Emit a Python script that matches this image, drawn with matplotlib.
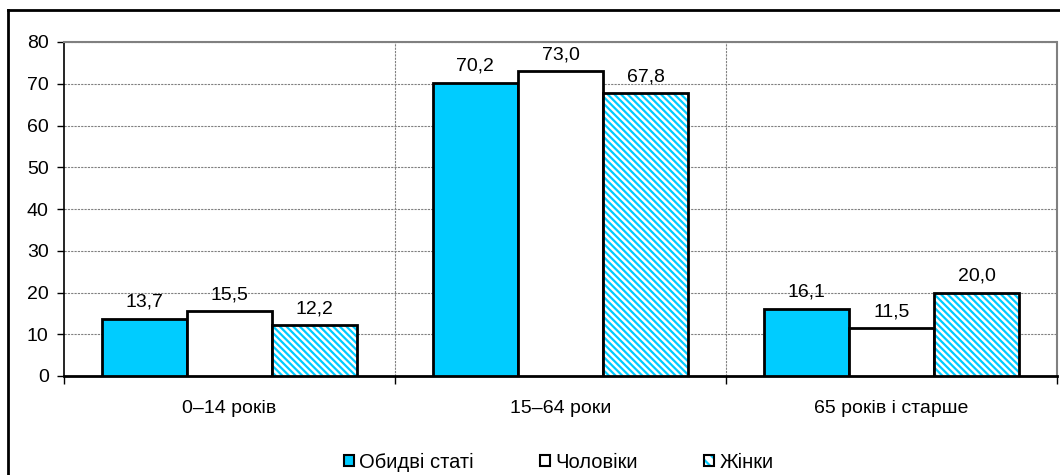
import matplotlib.pyplot as plt
import numpy as np
from matplotlib.patches import Patch
from matplotlib.lines import Line2D

plt.rcParams['font.family'] = ['Liberation Sans', 'DejaVu Sans']
plt.rcParams['hatch.linewidth'] = 1.6

# data
categories = ['0–14 років', '15–64 роки', '65 років і старше']
series_names = ['Обидві статі', 'Чоловіки', 'Жінки']
both = [13.7, 70.2, 16.1]
men = [15.5, 73.0, 11.5]
women = [12.2, 67.8, 20.0]

cyan = '#00CCFF'
hatch = '\\' * 5

fig = plt.figure(figsize=(10.6, 4.75), dpi=100)
ax = fig.add_axes([64/1060, 1 - 376/475, (1057 - 64)/1060, (376 - 42)/475])

x = np.arange(len(categories))
w = 0.257

ax.bar(x - w, both, w, color=cyan, edgecolor='black', linewidth=2, zorder=3)
ax.bar(x, men, w, color='white', edgecolor='black', linewidth=2, zorder=3)
# hatch drawn in cyan, outline drawn separately in black
ax.bar(x + w, women, w, color='white', edgecolor=cyan, hatch=hatch, linewidth=0, zorder=3)
ax.bar(x + w, women, w, fill=False, edgecolor='black', linewidth=2, zorder=4)

for vals, off in [(both, -w), (men, 0), (women, w)]:
    for xi, v in zip(x, vals):
        ax.text(xi + off, v + 1.9, f'{v:.1f}'.replace('.', ','), ha='center', va='bottom', fontsize=14)

ax.set_xlim(-0.5, 2.5)
ax.set_ylim(0, 80)
ax.set_yticks(np.arange(0, 81, 10))
ax.yaxis.grid(True, linestyle=(0, (2, 1)), color='#808080', linewidth=0.8, zorder=0)
for b in [0.5, 1.5]:
    ax.axvline(b, linestyle=(0, (2, 1)), color='#808080', linewidth=0.8, zorder=0)

ax.set_xticks(x)
ax.set_xticklabels(categories)
ax.set_xticks([-0.5, 0.5, 1.5, 2.5], minor=True)
ax.tick_params(axis='x', which='major', length=0, pad=17, labelsize=14)
ax.tick_params(axis='x', which='minor', length=6, width=1, direction='out')
ax.tick_params(axis='y', length=5, width=1, direction='out', labelsize=14, pad=6)

ax.spines['left'].set_linewidth(1.2)
ax.spines['bottom'].set_linewidth(2)
for s in ['top', 'right']:
    ax.spines[s].set_color('#808080')
    ax.spines[s].set_linestyle((0, (2, 1)))
    ax.spines[s].set_linewidth(1.5)

handles = [
    Patch(facecolor=cyan, edgecolor='black', linewidth=1.5),
    Patch(facecolor='white', edgecolor='black', linewidth=1.5),
    (Patch(facecolor='white', edgecolor=cyan, linewidth=0, hatch='\\\\\\'),
     Patch(fill=False, edgecolor='black', linewidth=1.5)),
]
fig.legend(handles, series_names, loc='center', bbox_to_anchor=(0.527, 0.027), ncol=3,
           frameon=False, fontsize=14.5, handlelength=0.5, handleheight=0.5,
           handletextpad=0.25, columnspacing=3.3)

# outer frame (only left and top edges visible)
fig.add_artist(Line2D([8/1060, 8/1060], [0, 1 - 10/475], color='black', linewidth=2, transform=fig.transFigure))
fig.add_artist(Line2D([8/1060, 1], [1 - 10/475, 1 - 10/475], color='black', linewidth=2, transform=fig.transFigure))

fig.savefig('out.png', dpi=100)
